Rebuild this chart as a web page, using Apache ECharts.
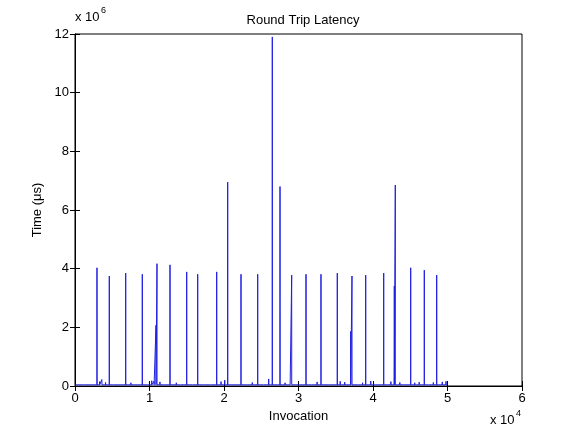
<!DOCTYPE html>
<html><head><meta charset="utf-8">
<script src="https://cdn.jsdelivr.net/npm/echarts@6/dist/echarts.min.js"></script>
<style>html,body{margin:0;padding:0;background:#fff}#c{width:576px;height:433px}</style>
</head><body><div id="c"></div>
<script>
// Spikes (invocation index, latency in microseconds)
const spikeX = [2953, 4604, 6805, 9034, 10872, 11007, 12752, 14993, 16470, 19020, 20497, 22282, 24523, 26483, 27517, 29087, 31007, 33020, 35208, 37007, 37181, 39020, 41436, 42859, 42993, 45060, 46886, 48550];
const spikeY = [4030000, 3750000, 3850000, 3810000, 2070000, 4170000, 4130000, 3890000, 3810000, 3890000, 6950000, 3810000, 3810000, 11900000, 6800000, 3780000, 3810000, 3810000, 3850000, 1860000, 3750000, 3780000, 3850000, 3410000, 6850000, 4030000, 3950000, 3780000];
// Small baseline bumps
const noiseX = [1200, 3300, 3600, 4100, 5200, 5800, 7500, 8200, 9800, 10300, 10600, 11400, 12000, 13600, 14200, 15800, 17300, 18200, 19600, 20100, 21500, 23000, 23800, 25300, 26000, 28200, 28900, 30200, 31800, 32500, 34000, 35600, 36200, 38100, 38600, 39700, 40300, 41900, 42400, 43600, 44300, 45600, 46200, 47500, 48100, 49300, 49800];
const noiseY = [60000, 150000, 220000, 120000, 90000, 70000, 110000, 80000, 60000, 180000, 160000, 140000, 90000, 110000, 70000, 80000, 100000, 60000, 150000, 200000, 90000, 80000, 120000, 70000, 240000, 110000, 90000, 100000, 80000, 140000, 70000, 160000, 130000, 90000, 110000, 170000, 80000, 100000, 150000, 120000, 90000, 110000, 130000, 80000, 120000, 140000, 160000];
const baseline = 40000;
const startX = 1, endX = 50000;
const xTicks = [0, 1, 2, 3, 4, 5, 6];
const yTicks = [0, 2, 4, 6, 8, 10, 12];

const peaks = [];
spikeX.forEach((x, i) => peaks.push([x, spikeY[i], 4]));
noiseX.forEach((x, i) => peaks.push([x, noiseY[i], 20]));
peaks.sort((a, b) => a[0] - b[0]);
const data = [[startX, baseline]];
peaks.forEach(p => {
  data.push([p[0] - p[2], baseline]);
  data.push([p[0], p[1]]);
  data.push([p[0] + p[2], baseline]);
});
data.push([endX, baseline]);

const font = 'Arial, "Liberation Sans", sans-serif';
const chart = echarts.init(document.getElementById('c'), null, {renderer: 'canvas'});
const axLine = {show: true, lineStyle: {color: '#000', width: 1}};
const tick = {show: true, inside: true, length: 5, lineStyle: {color: '#000'}};
chart.setOption({
  animation: false,
  backgroundColor: '#fff',
  title: {text: 'Round Trip Latency', left: 298, top: 9, textAlign: 'center',
    textStyle: {fontFamily: font, fontSize: 13, fontWeight: 'normal', color: '#000'}},
  grid: {left: 75, right: 54, top: 34, bottom: 47, show: true, borderColor: '#000', borderWidth: 1},
  xAxis: [
    {type: 'value', min: 0, max: 60000, interval: 10000, position: 'bottom',
     name: 'Invocation', nameLocation: 'middle', nameGap: 23,
     nameTextStyle: {fontFamily: font, fontSize: 13, color: '#000'},
     axisLine: axLine, axisTick: tick, splitLine: {show: false},
     axisLabel: {fontFamily: font, fontSize: 13, color: '#000', margin: 6,
       formatter: v => String(xTicks[Math.round(v / 10000)])}},
    {type: 'value', min: 0, max: 60000, interval: 10000, position: 'top',
     axisLine: axLine, axisTick: tick, splitLine: {show: false}, axisLabel: {show: false}}
  ],
  yAxis: [
    {type: 'value', min: 0, max: 12000000, interval: 2000000, position: 'left',
     name: 'Time (\u03bcs)', nameLocation: 'middle', nameGap: 28,
     nameTextStyle: {fontFamily: font, fontSize: 13, color: '#000'},
     axisLine: axLine, axisTick: tick, splitLine: {show: false},
     axisLabel: {fontFamily: font, fontSize: 13, color: '#000', margin: 6,
       formatter: v => String(yTicks[Math.round(v / 2000000)])}},
    {type: 'value', min: 0, max: 12000000, interval: 2000000, position: 'right',
     axisLine: axLine, axisTick: tick, splitLine: {show: false}, axisLabel: {show: false}}
  ],
  graphic: [
    {type: 'text', left: 75, top: 11, style: {text: 'x 10', font: '13px ' + font, fill: '#000'}},
    {type: 'text', left: 101, top: 6, style: {text: '6', font: '9px ' + font, fill: '#000'}},
    {type: 'text', left: 490, top: 414, style: {text: 'x 10', font: '13px ' + font, fill: '#000'}},
    {type: 'text', left: 516, top: 409, style: {text: '4', font: '9px ' + font, fill: '#000'}}
  ],
  series: [{
    type: 'line', xAxisIndex: 0, yAxisIndex: 0, data: data, showSymbol: false, symbol: 'none',
    lineStyle: {color: '#1f1fe0', width: 1}, silent: true, clip: true
  }]
});
</script></body></html>
